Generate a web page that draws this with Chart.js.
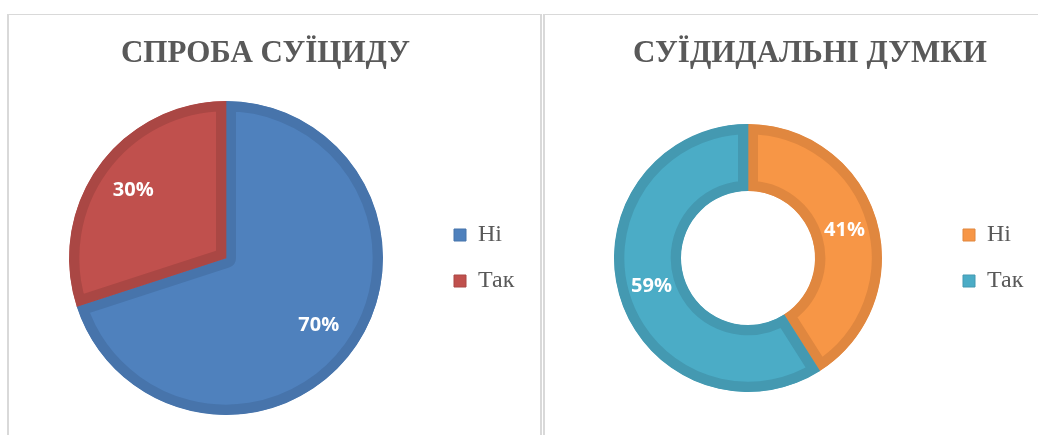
<!DOCTYPE html>
<html lang="uk">
<head>
<meta charset="utf-8">
<title>Спроба суїциду / суїцидальні думки</title>
<script src="https://cdn.jsdelivr.net/npm/chart.js@4/dist/chart.umd.min.js"></script>
<style>
  html, body { margin: 0; padding: 0; background: #fff; overflow: hidden; }
  body { width: 1038px; height: 435px; position: relative; }
  .frame {
    position: absolute; top: 14px; width: 535px; height: 460px;
    box-sizing: border-box; border: 1px solid #d9d9d9;
    border-left-width: 2px; border-right-width: 2px;
  }
  #frame-left { left: 7px; }
  #frame-right { left: 543px; }
  canvas { position: absolute; top: 15px; }
  #attemptChart { left: 8px; }
  #thoughtsChart { left: 544px; }
</style>
</head>
<body>
<div class="frame" id="frame-left"></div>
<div class="frame" id="frame-right"></div>
<canvas id="attemptChart" width="533" height="420"></canvas>
<canvas id="thoughtsChart" width="533" height="420"></canvas>

<script>
// Дані діаграм
const attemptTitle = 'СПРОБА СУЇЦИДУ';
const attemptLabels = ['Ні', 'Так'];
const attemptValues = [70, 30];

const thoughtsTitle = 'СУЇДИДАЛЬНІ ДУМКИ';
const thoughtsLabels = ['Ні', 'Так'];
const thoughtsValues = [41, 59];

// Кольори (заливка + темніша внутрішня рамка)
const attemptColors = ['#4F81BD', '#C0504D'];
const attemptBorders = ['#4774AB', '#AA4744'];
const thoughtsColors = ['#F79646', '#4BACC6'];
const thoughtsBorders = ['#E0873F', '#4499B1'];

const textGray = '#595959';
const serif = '"Liberation Serif", "Times New Roman", serif';

// Підписи відсотків усередині секторів
const sliceLabels = {
  id: 'sliceLabels',
  afterDatasetsDraw(chart, args, opts) {
    const { ctx } = chart;
    const meta = chart.getDatasetMeta(0);
    const values = chart.data.datasets[0].data;
    ctx.save();
    ctx.font = 'bold 20px "Open Sans"';
    ctx.fillStyle = '#ffffff';
    ctx.textAlign = 'center';
    ctx.textBaseline = 'middle';
    meta.data.forEach((arc, i) => {
      const p = arc.getProps(['x', 'y', 'startAngle', 'endAngle', 'innerRadius', 'outerRadius'], true);
      const mid = (p.startAngle + p.endAngle) / 2;
      const r = p.innerRadius + (p.outerRadius - p.innerRadius) * opts.position;
      ctx.fillText(values[i] + '%', p.x + Math.cos(mid) * r, p.y + Math.sin(mid) * r);
    });
    ctx.restore();
  }
};

// Фіксована ширина легенди + зсув заголовка, як в оригіналі
const boxTweaks = {
  id: 'boxTweaks',
  beforeLayout(chart, args, opts) {
    const legend = chart.legend;
    if (!legend || legend._fixedFit) return;
    const fit = legend.fit;
    legend.fit = function () {
      fit.call(this);
      this.width = opts.legendWidth;
    };
    legend._fixedFit = true;
  },
  afterLayout(chart, args, opts) {
    const t = chart.titleBlock;
    if (!t) return;
    t.left += opts.titleShift;
    t.right += opts.titleShift;
  }
};

function legendLabels(chart) {
  const items = Chart.overrides.doughnut.plugins.legend.labels.generateLabels(chart);
  return items.map(item => ({ ...item, lineWidth: 1 }));
}

function makeChart(id, type, title, labels, values, colors, borders, cfg) {
  return new Chart(document.getElementById(id), {
    type: type,
    data: {
      labels: labels,
      datasets: [{
        data: values,
        backgroundColor: colors,
        borderColor: borders,
        borderWidth: 10,
        borderAlign: 'inner',
        hoverOffset: 0
      }]
    },
    plugins: [sliceLabels, boxTweaks],
    options: {
      responsive: false,
      animation: false,
      cutout: cfg.cutout,
      layout: { padding: cfg.padding },
      plugins: {
        title: {
          display: true,
          text: title,
          color: textGray,
          font: { family: serif, size: 31, weight: 'bold', lineHeight: 1.2 },
          padding: cfg.titlePadding
        },
        legend: {
          position: 'right',
          fullSize: false,
          labels: {
            boxWidth: 12,
            boxHeight: 12,
            padding: 22,
            color: textGray,
            font: { family: serif, size: 24 },
            generateLabels: legendLabels
          }
        },
        tooltip: { enabled: false },
        sliceLabels: { position: cfg.labelPos },
        boxTweaks: { legendWidth: 109, titleShift: cfg.titleShift }
      }
    }
  });
}

makeChart('attemptChart', 'pie', attemptTitle, attemptLabels, attemptValues,
  attemptColors, attemptBorders, {
    cutout: 0,
    padding: { top: 2, bottom: 20, left: 12, right: 0 },
    titlePadding: { top: 18, bottom: 28.8 },
    labelPos: 0.73,
    titleShift: -15
  });

makeChart('thoughtsChart', 'doughnut', thoughtsTitle, thoughtsLabels, thoughtsValues,
  thoughtsColors, thoughtsBorders, {
    cutout: '50%',
    padding: { top: 2, bottom: 43, left: 11, right: 27 },
    titlePadding: { top: 18, bottom: 51.8 },
    labelPos: 0.5,
    titleShift: 7.5
  });
</script>
</body>
</html>
